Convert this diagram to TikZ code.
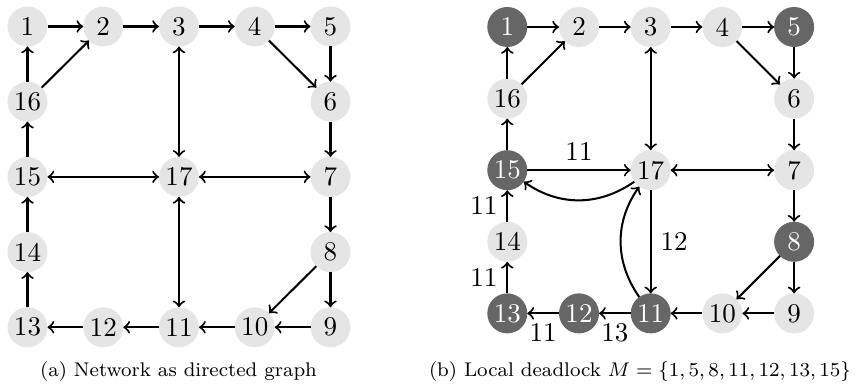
\documentclass[tikz,border=0pt]{standalone}
\begin{document}
\begin{tikzpicture}[x=0.37pt,y=-0.37pt,
  vtx/.style={circle,fill=black!10,minimum size=14.8pt,inner sep=0pt,outer sep=0pt,font=\fontsize{10}{12}\selectfont},
  dvtx/.style={vtx,fill=black!60,text=white},
  arr/.style={->,line width=0.75pt},
  darr/.style={<->,line width=0.75pt},
  lbl/.style={font=\fontsize{10}{12}\selectfont,inner sep=3.3pt},
  captxt/.style={anchor=base,font=\footnotesize,inner sep=0pt}]
\useasboundingbox (0,0) rectangle (856,386);
% left graph
\foreach \n/\c/\r in {1/0/0,2/1/0,3/2/0,4/3/0,5/4/0,16/0/1,6/4/1,15/0/2,17/2/2,7/4/2,14/0/3,8/4/3,13/0/4,12/1/4,11/2/4,10/3/4,9/4/4}
  \node[vtx] (a\n) at ({27.5+75.75*\c},{26.5+75.2*\r}) {\n};
\foreach \s/\t in {1/2,2/3,3/4,4/5,5/6,4/6,16/1,16/2,15/16,6/7,7/8,14/15,13/14,12/13,11/12,10/11,9/10,8/9,8/10}
  \draw[arr] (a\s) -- (a\t);
\foreach \s/\t in {3/17,15/17,17/7,11/17}
  \draw[darr] (a\s) -- (a\t);
% right graph
\foreach \n/\c/\r in {2/1/0,3/2/0,4/3/0,16/0/1,6/4/1,17/2/2,7/4/2,14/0/3,10/3/4,9/4/4}
  \node[vtx] (b\n) at ({507.3+71.7*\c},{27+71.6*\r}) {\n};
\foreach \n/\c/\r in {1/0/0,5/4/0,15/0/2,8/4/3,13/0/4,12/1/4,11/2/4}
  \node[dvtx] (b\n) at ({507.3+71.7*\c},{27+71.6*\r}) {\n};
\foreach \s/\t in {1/2,2/3,3/4,4/5,5/6,4/6,16/1,16/2,15/16,6/7,7/8,10/11,9/10,8/9,8/10}
  \draw[arr] (b\s) -- (b\t);
\foreach \s/\t in {3/17,17/7}
  \draw[darr] (b\s) -- (b\t);
\draw[arr] (b15) -- node[lbl,above] {11} (b17);
\draw[arr] (b17) to[bend left=35] (b15);
\draw[arr] (b17) -- node[lbl,right] {12} (b11);
\draw[arr] (b11) to[bend left=35] (b17);
\draw[arr] (b14) -- node[lbl,left] {11} (b15);
\draw[arr] (b13) -- node[lbl,left] {11} (b14);
\draw[arr] (b12) -- node[lbl,below] {11} (b13);
\draw[arr] (b11) -- node[lbl,below] {13} (b12);
% captions
\node[captxt] (capa) at (178.5,377) {\scalebox{0.915}{(a) Network as directed graph}};
\node[captxt] (capb) at (640,377) {\scalebox{0.915}{(b) Local deadlock $M = \{1, 5, 8, 11, 12, 13, 15\}$}};
\end{tikzpicture}
\end{document}
